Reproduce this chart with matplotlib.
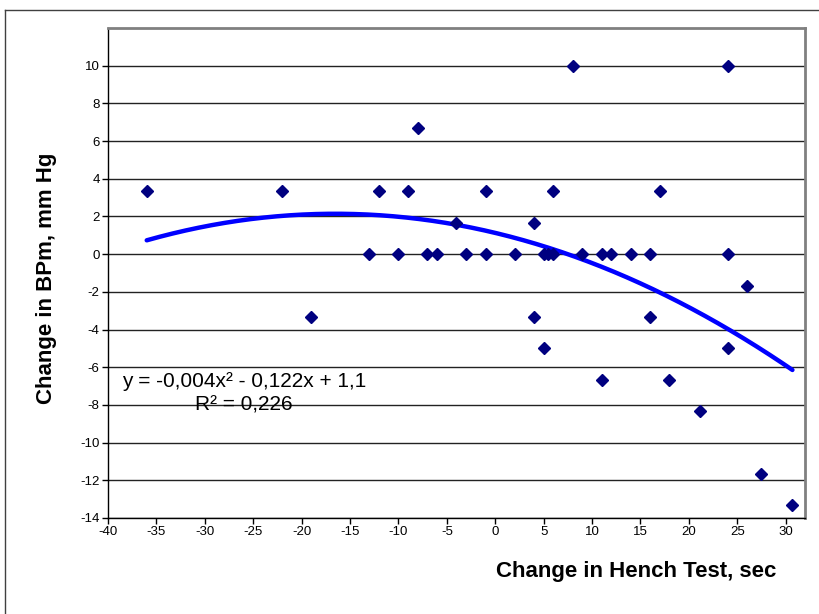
import numpy as np
import matplotlib
matplotlib.use("Agg")
import matplotlib.pyplot as plt
from matplotlib.lines import Line2D

plt.rcParams['font.family'] = ['Liberation Sans', 'DejaVu Sans']

# Data
hench_change = [-36, -22, -19, -13, -12, -10, -9, -8, -7, -6, -4, -3, -1, -1,
                2, 4, 4, 5, 5, 5.5, 6, 6, 8, 9, 11, 11, 12, 14, 16, 16, 17,
                18, 21.2, 24, 24, 24, 26, 27.5, 30.7]
bpm_change = [3.33, 3.33, -3.33, 0, 3.33, 0, 3.33, 6.67, 0, 0, 1.67, 0, 0, 3.33,
              0, 1.67, -3.33, -5, 0, 0, 0, 3.33, 10, 0, 0, -6.67, 0, 0, 0, -3.33, 3.33,
              -6.67, -8.33, 10, 0, -5, -1.67, -11.67, -13.33]
x_ticks = list(range(-40, 31, 5))
y_ticks = list(range(-14, 11, 2))
equation_text = "y = -0,004x² - 0,122x + 1,1\nR² = 0,226"

W, H = 820, 614
fig = plt.figure(figsize=(W / 100, H / 100), dpi=100)
ax = fig.add_axes([108 / W, 1 - 518 / H, (805 - 108) / W, (518 - 28) / H])

# Trend line (quadratic least squares fit of the data)
coef = np.polyfit(hench_change, bpm_change, 2)
xs = np.linspace(min(hench_change), max(hench_change), 200)
ax.plot(xs, np.polyval(coef, xs), color='#0000FF', lw=3.2, zorder=3,
        solid_capstyle='round')

ax.plot(hench_change, bpm_change, linestyle='none', marker='D', ms=6.2,
        color='#000080', zorder=4)

ax.set_xlim(-40, 32)
ax.set_ylim(-14, 12)
ax.set_xticks(x_ticks)
ax.set_yticks(y_ticks)
ax.set_xticklabels([str(v) for v in x_ticks])
ax.set_yticklabels([str(v) for v in y_ticks])
ax.tick_params(axis='both', direction='out', length=4, width=1, color='#000000',
               labelsize=9.5, pad=2)
ax.yaxis.grid(True, color='#222222', lw=1.0)
ax.set_axisbelow(True)

for side in ['top', 'right']:
    ax.spines[side].set_color('#808080')
    ax.spines[side].set_linewidth(2)
for side in ['left', 'bottom']:
    ax.spines[side].set_color('#000000')
    ax.spines[side].set_linewidth(1)

fig.text(636 / W, 1 - 571 / H, "Change in Hench Test, sec", ha='center', va='center',
         fontsize=16, fontweight='bold')
fig.text(47 / W, 1 - 278 / H, "Change in BPm, mm Hg", ha='center', va='center',
         rotation=90, fontsize=16, fontweight='bold')

fig.text(244 / W, 1 - 393 / H, equation_text, ha='center', va='center',
         fontsize=15, linespacing=1.3)

# outer chart border
fig.add_artist(Line2D([5 / W, 5 / W], [0, 1 - 10 / H], transform=fig.transFigure,
                      color='#404040', lw=1))
fig.add_artist(Line2D([5 / W, 1], [1 - 10 / H, 1 - 10 / H], transform=fig.transFigure,
                      color='#404040', lw=1))

fig.savefig("out.png", dpi=100, facecolor='white')
